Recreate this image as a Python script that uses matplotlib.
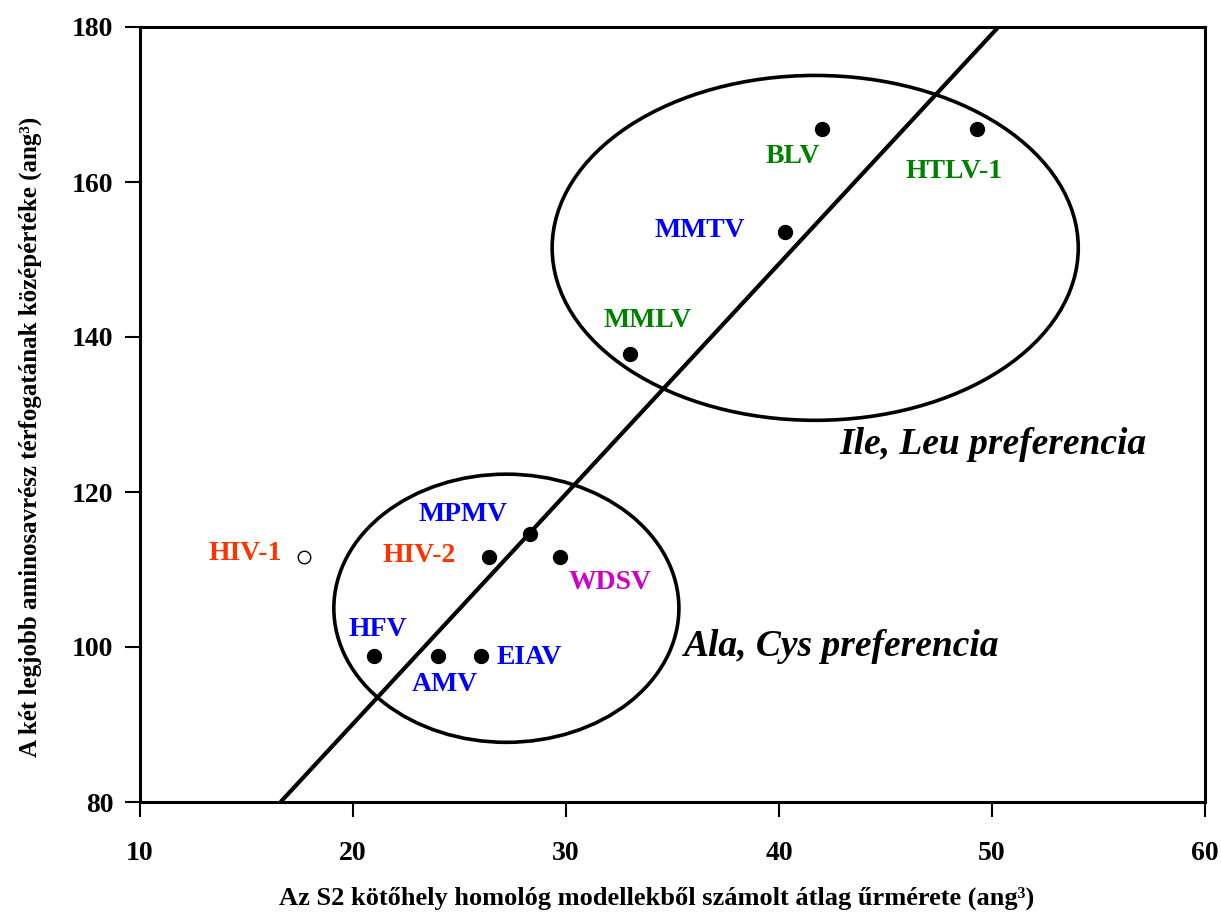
import matplotlib
matplotlib.use("Agg")
import matplotlib.pyplot as plt
from matplotlib.patches import Ellipse

# ---- data ----
names = ["HIV-1", "HIV-2", "MPMV", "WDSV", "HFV", "AMV", "EIAV",
         "MMLV", "MMTV", "BLV", "HTLV-1"]
x_vals = [17.7, 26.4, 28.3, 29.7, 21.0, 24.0, 26.0, 33.0, 40.3, 42.0, 49.3]
y_vals = [111.6, 111.6, 114.6, 111.6, 98.8, 98.8, 98.8, 137.8, 153.5, 166.8, 166.8]
open_marker = [True, False, False, False, False, False, False, False, False, False, False]
label_colors = ["#FF3300", "#FF3300", "#0000FF", "#CC00CC", "#0000FF", "#0000FF",
                "#0000FF", "#008000", "#0000FF", "#008000", "#008000"]
# label offsets in pixels (dx, dy)
label_offsets = [(-59, 4), (-70, 2), (-67, 19), (51, -25), (4, 27), (7, -28),
                 (49, -1), (18, 34), (-86, 2), (-29, -27), (-23, -42)]

fit_x = [16.6, 50.3]
fit_y = [80.0, 180.0]

# ellipses: center x, center y, width, height
ell_upper = (41.7, 151.5, 24.7, 44.5)
ell_lower = (27.2, 105.0, 16.2, 34.6)

x_ticks = [10, 20, 30, 40, 50, 60]
y_ticks = [80, 100, 120, 140, 160, 180]

plt.rcParams['font.family'] = ['Liberation Serif', 'DejaVu Serif']
plt.rcParams['font.weight'] = 'bold'

fig = plt.figure(figsize=(12.21, 9.14), dpi=100)
ax = fig.add_axes([140 / 1221, 1 - 802 / 914, 1065 / 1221, 775 / 914])
ax.set_xlim(10, 60)
ax.set_ylim(80, 180)

# fitted line
ax.plot(fit_x, fit_y, color="black", lw=3.0, solid_capstyle="butt", zorder=3)

# ellipses
for (cx, cy, w, h) in (ell_upper, ell_lower):
    ax.add_patch(Ellipse((cx, cy), w, h, fill=False, edgecolor="black", lw=2.6, zorder=2))

# points
for xv, yv, op in zip(x_vals, y_vals, open_marker):
    if op:
        ax.plot(xv, yv, 'o', ms=9, mfc="white", mec="black", mew=1.0, zorder=4)
    else:
        ax.plot(xv, yv, 'o', ms=10, mfc="black", mec="black", zorder=4)

# labels
for n, xv, yv, c, off in zip(names, x_vals, y_vals, label_colors, label_offsets):
    ax.annotate(n, (xv, yv), xytext=off, textcoords="offset pixels",
                ha="center", va="center", color=c, fontsize=20, fontweight="bold")

# group annotations
fig.text(993 / 1221, 1 - 444 / 914, "Ile, Leu preferencia",
         ha="center", va="center", fontsize=27, fontstyle="italic", fontweight="bold")
fig.text(842 / 1221, 1 - 647 / 914, "Ala, Cys preferencia",
         ha="center", va="center", fontsize=27, fontstyle="italic", fontweight="bold")

ax.set_xticks(x_ticks)
ax.set_yticks(y_ticks)
ax.tick_params(direction="out", length=11, width=1.5, labelsize=20)
ax.tick_params(axis="x", pad=17)
ax.tick_params(axis="y", pad=8)
for lab in ax.get_xticklabels() + ax.get_yticklabels():
    lab.set_fontweight("bold")
for s in ax.spines.values():
    s.set_linewidth(2.2)

fig.text(657 / 1221, 1 - 898 / 914,
         "Az S2 kötőhely homológ modellekből számolt átlag űrmérete (ang³)",
         ha="center", va="center", fontsize=19, fontweight="bold")
fig.text(30 / 1221, 1 - 437 / 914,
         "A két legjobb aminosavrész térfogatának középértéke (ang³)",
         ha="center", va="center", rotation=90, fontsize=18, fontweight="bold")

fig.savefig("out.png", dpi=100)
